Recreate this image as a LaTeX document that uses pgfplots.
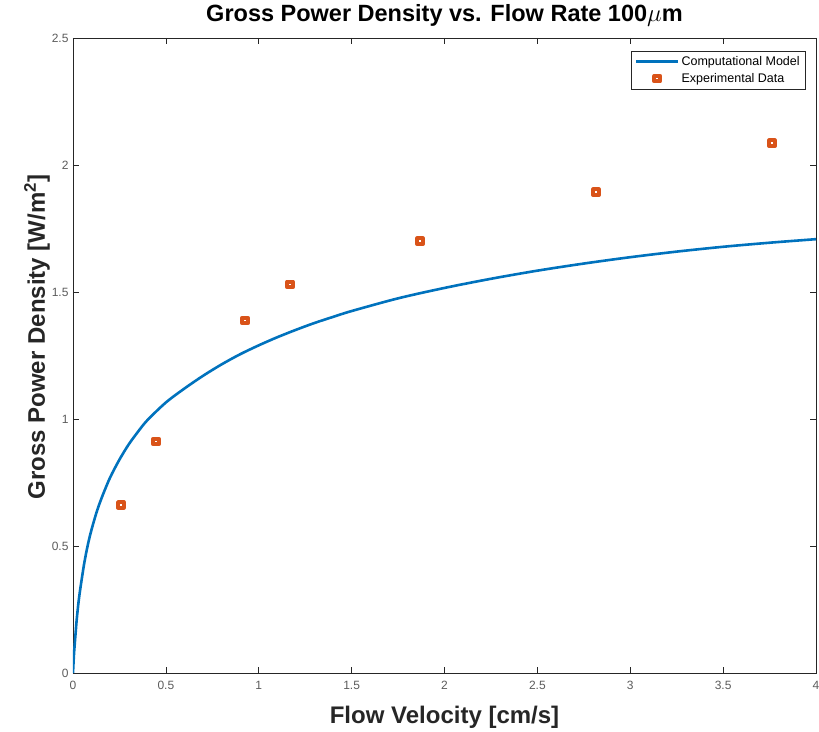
\documentclass[border=0pt]{standalone}
\usepackage{pgfplots}
\pgfplotsset{compat=1.18}
\usepackage{fontspec}
\setmainfont{Liberation Sans}
\definecolor{mblue}{rgb}{0,0.447,0.741}
\definecolor{morange}{rgb}{0.85,0.325,0.098}
\definecolor{axgray}{rgb}{0.15,0.15,0.15}
\pgfplotsset{
  lineleg/.style={legend image code/.code={\draw[##1] (0pt,0pt) -- (42pt,0pt);}},
  markleg/.style={legend image code/.code={\draw[mark repeat=2,mark phase=2,##1] plot coordinates {(0pt,0pt) (21pt,0pt) (42pt,0pt)};}},
}
\begin{document}
\begin{tikzpicture}
\useasboundingbox (-73pt,-58pt) rectangle (746pt,673pt);
\begin{axis}[
  name=ax,
  at={(0pt,0pt)}, anchor=south west,
  scale only axis,
  width=743pt, height=635pt,
  xmin=0, xmax=4, ymin=0, ymax=2.5,
  xtick={0,0.5,...,4}, ytick={0,0.5,...,2.5},
  xticklabels={0,0.5,1,1.5,2,2.5,3,3.5,4},
  yticklabels={0,0.5,1,1.5,2,2.5},
  tick align=inside,
  major tick length=6pt,
  axis line style={axgray, line width=0.6pt},
  tick style={axgray, line width=0.6pt},
  ticklabel style={font=\fontsize{12}{14}\selectfont, text=axgray!75},
  xticklabel style={yshift=-5pt},
  yticklabel style={xshift=-1pt},
  /pgf/number format/assume math mode=true,
  xlabel={\textbf{Flow Velocity [cm/s]}},
  ylabel={\textbf{Gross Power Density [W/m\textsuperscript{2}]}},
  label style={font=\fontsize{24}{28}\selectfont, text=axgray},
  xlabel style={at={(axis description cs:0.5,0)}, anchor=base, yshift=-50pt},
  ylabel style={at={(axis description cs:-0.0377,0.529)}, anchor=base},
  title={\textbf{Gross Power Density vs. Flow Rate 100$\mu$m}},
  title style={font=\fontsize{23.5}{27}\selectfont, at={(axis description cs:0.5,1)}, anchor=base, yshift=10pt},
  legend style={at={(0.9865,0.9795)}, anchor=north east, font=\fontsize{12.5}{14}\selectfont, draw=axgray, line width=0.6pt, row sep=2.5pt, inner xsep=4pt, inner ysep=3pt},
  legend cell align=left,
]
\addplot[mblue, line width=2.6pt, smooth, lineleg] table {
x y
0 0
0.005 0.07
0.01 0.12
0.02 0.21
0.03 0.28
0.04 0.335
0.06 0.43
0.08 0.505
0.10 0.565
0.13 0.64
0.16 0.70
0.20 0.77
0.25 0.84
0.30 0.90
0.35 0.95
0.40 0.995
0.50 1.065
0.60 1.12
0.70 1.17
0.80 1.215
0.90 1.255
1.00 1.29
1.10 1.322
1.20 1.351
1.30 1.378
1.40 1.402
1.50 1.425
1.75 1.475
2.00 1.516
2.25 1.552
2.50 1.584
2.75 1.612
3.00 1.637
3.25 1.659
3.50 1.678
3.75 1.694
4.00 1.708
};
\addlegendentry{Computational Model}
\addplot[only marks, mark=square, mark size=2.8pt, mark options={draw=morange, line width=4pt, line join=round}, markleg] table {
x y
0.258 0.662
0.447 0.911
0.926 1.388
1.168 1.530
1.868 1.700
2.816 1.893
3.763 2.086
};
\addlegendentry{Experimental Data}
\end{axis}
\end{tikzpicture}
\end{document}
